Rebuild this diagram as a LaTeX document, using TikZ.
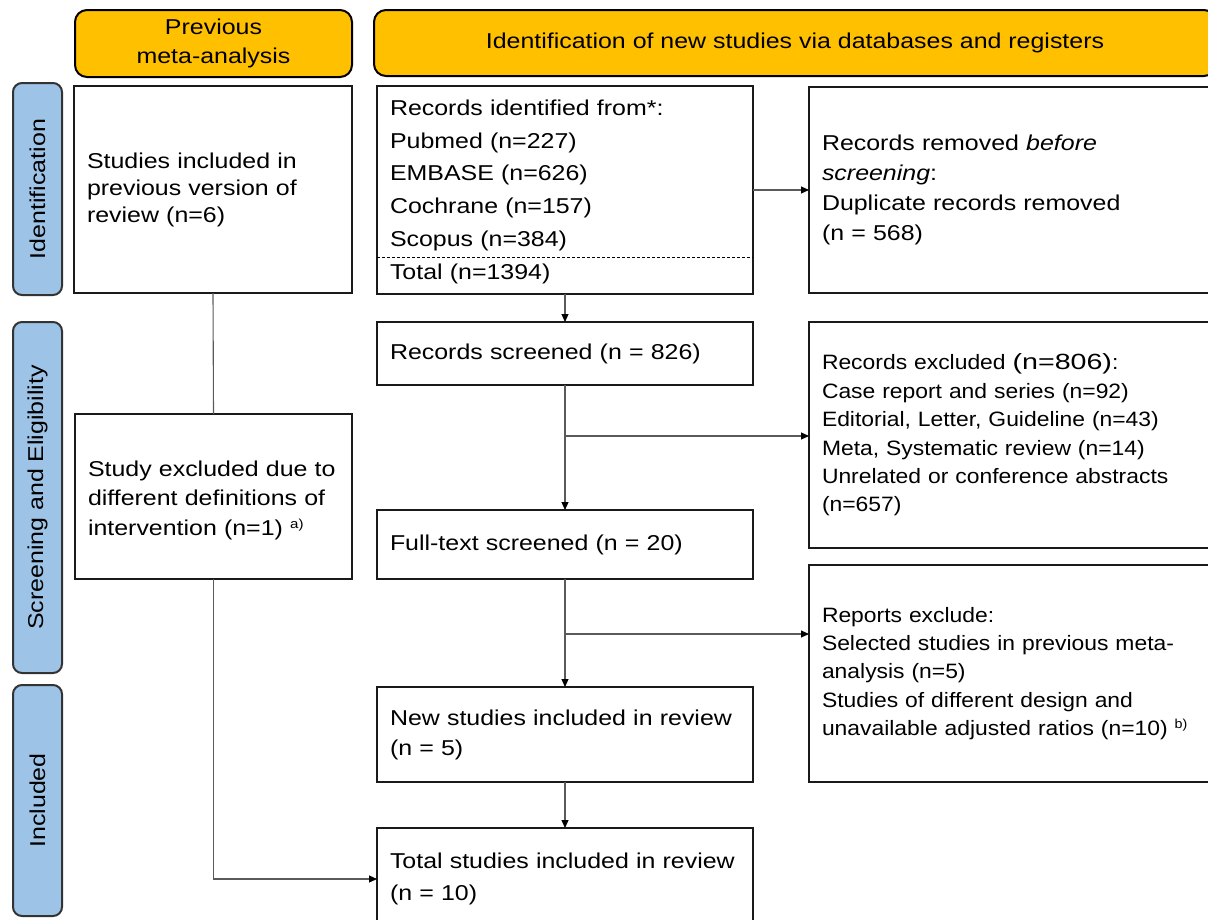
\documentclass[tikz,border=0pt]{standalone}
\usepackage{fontspec}
\setmainfont[FakeStretch=1.16]{Liberation Sans}
\newfontfamily\rf[FakeStretch=1.1]{Liberation Sans}
\newfontfamily\widef[FakeStretch=1.3]{Liberation Sans}
\usetikzlibrary{arrows.meta}
\definecolor{hdrorange}{HTML}{FFC000}
\definecolor{sideblue}{HTML}{9DC3E6}
\definecolor{boxline}{HTML}{1A1A1A}
\definecolor{connc}{HTML}{5A5A5A}
\newcommand{\fs}[1]{\fontsize{21.5}{#1}\selectfont}
\newcommand{\fr}[1]{\rf\fontsize{20.8}{#1}\selectfont}
\newcommand{\supr}[1]{\raisebox{7pt}{\fontsize{13}{13}\selectfont #1}}
\begin{document}
\begin{tikzpicture}[x=1pt,y=-1pt,
  box/.style={draw=boxline, line width=1.4pt, inner xsep=13pt, inner ysep=0pt, outer sep=0pt, align=left, anchor=north west},
  hdr/.style={draw=black, line width=2pt, fill=hdrorange, rounded corners=12pt, anchor=north west, outer sep=0pt, align=center, inner sep=0pt},
  side/.style={draw=black!80, line width=2pt, fill=sideblue, rounded corners=9pt, rotate=90, inner sep=0pt, outer sep=0pt, font=\fs{28}},
  conn/.style={draw=connc, line width=1.1pt},
  arr/.style={conn, -{Triangle[length=8pt,width=7pt,color=black]}}
]
\useasboundingbox (0,0) rectangle (1208,919);
\clip (0,0) rectangle (1208,919);

% headers
\node[hdr, minimum width=277pt, minimum height=67pt, font=\fs{29}] (hp) at (75,10) {Previous\\meta-analysis};
\node[hdr, minimum width=842pt, minimum height=66pt, font=\fs{28}] (hi) at (374,10) {Identification of new studies via databases and registers};

% side labels
\node[side, minimum width=212pt, minimum height=49pt] (s1) at (37.5,189) {Identification};
\node[side, minimum width=351pt, minimum height=49pt] (s2) at (37.5,497.5) {Screening and Eligibility};
\node[side, minimum width=231pt, minimum height=49pt] (s3) at (37.5,800.5) {Included};

% left column
\node[box, minimum width=278pt, minimum height=207pt, text width=252pt, font=\fs{27}] (sp) at (74,86)
  {Studies included in\\previous version of\\review (n=6)};
\node[box, minimum width=277pt, minimum height=165pt, text width=251pt, font=\fs{29.5}] (se) at (75,414)
  {\rule{0pt}{23pt}Study excluded due to\\different definitions of\\intervention (n=1) \supr{a)}};

% middle column
\node[box, minimum width=376pt, minimum height=208pt, text width=350pt, font=\fs{32.8}] (rid) at (377,86)
  {\rule{0pt}{19pt}Records identified from*:\\Pubmed (n=227)\\EMBASE (n=626)\\Cochrane (n=157)\\Scopus (n=384)\\Total (n=1394)};
\node[box, minimum width=376pt, minimum height=63pt, text width=350pt, font=\fs{28}] (rs) at (377,322)
  {Records screened (n = 826)};
\node[box, minimum width=376pt, minimum height=69pt, text width=350pt, font=\fs{28}] (ft) at (377,510)
  {Full-text screened (n = 20)};
\node[box, minimum width=376pt, minimum height=95pt, text width=350pt, font=\fs{30}] (ns) at (377,687)
  {New studies included in review\\(n = 5)};
\node[box, minimum width=376pt, minimum height=102pt, text width=350pt, font=\fs{32}] (tot) at (377,828)
  {Total studies included in review\\(n = 10)};

% right column
\node[box, minimum width=410pt, minimum height=206pt, text width=384pt, font=\fs{30}] (rrem) at (809,87)
  {Records removed \textit{before}\\\textit{screening}:\\Duplicate records removed\\(n = 568)};
\node[box, minimum width=410pt, minimum height=226pt, text width=384pt, font=\fr{28.4}] (rex) at (809,322)
  {Records excluded {\widef\fontsize{22}{28}\selectfont(n=806)}:\\Case report and series (n=92)\\Editorial, Letter, Guideline (n=43)\\Meta, Systematic review (n=14)\\Unrelated or conference abstracts\\(n=657)};
\node[box, minimum width=410pt, minimum height=217pt, text width=384pt, font=\fr{28.3}] (rep) at (809,565)
  {Reports exclude:\\Selected studies in previous meta-\\analysis (n=5)\\Studies of different design and\\unavailable adjusted ratios (n=10) \supr{b)}};

% dashed separator
\draw[line width=0.8pt, dash pattern=on 3pt off 2pt] (rid.west |- 0,257) -- (rid.east |- 0,257);

% connectors
\coordinate (b1) at (565,436);
\coordinate (b2) at (565,634);
\draw[arr] (rid.east) -- (rrem.west |- rid.east);
\draw[arr] (rid.south) -- (rs.north);
\draw[arr] (rs.south) -- (ft.north);
\draw[arr] (b1) -- (rex.west |- b1);
\draw[arr] (ft.south) -- (ns.north);
\draw[arr] (b2) -- (rep.west |- b2);
\draw[arr] (ns.south) -- (tot.north);
\draw[conn] (sp.south) -- (se.north);
\draw[arr] (se.south) |- (tot.west);
\end{tikzpicture}
\end{document}
